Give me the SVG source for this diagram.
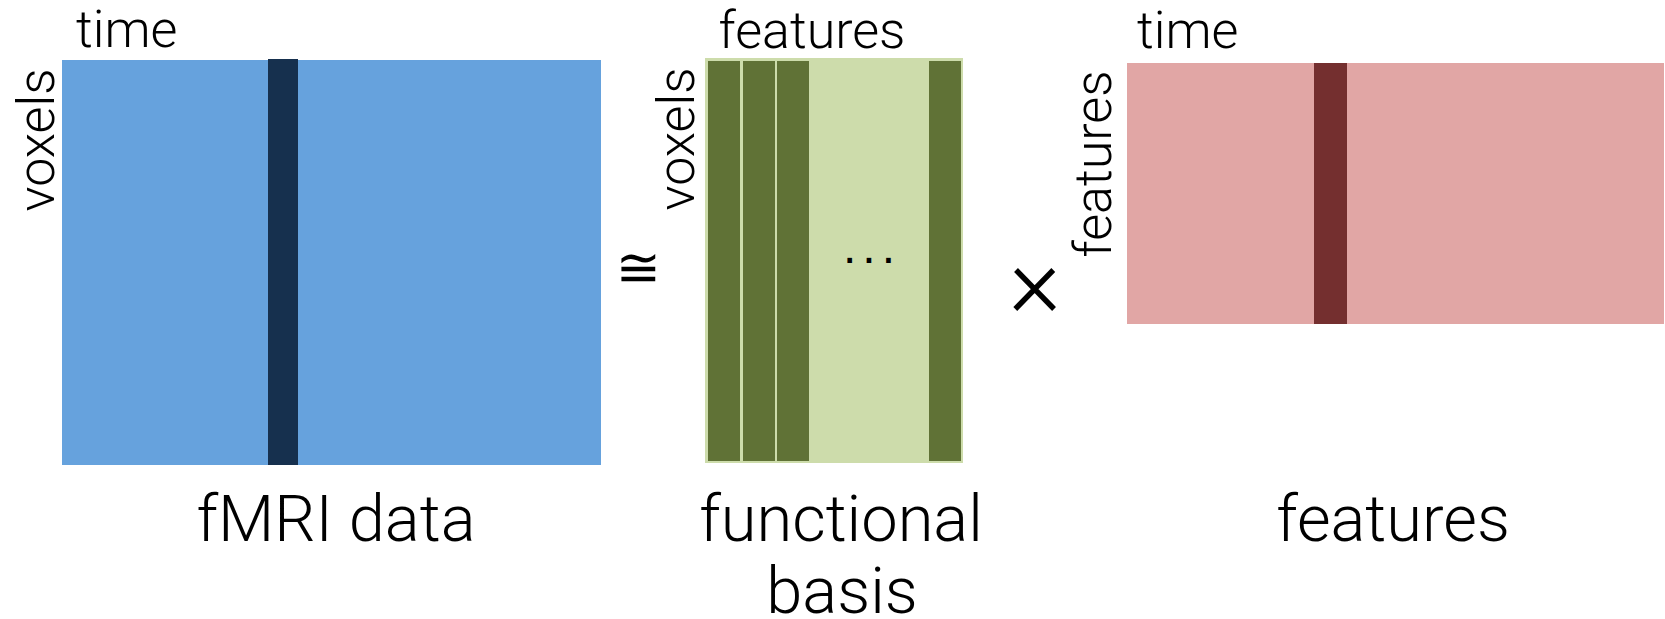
<svg xmlns="http://www.w3.org/2000/svg" width="1665" height="619" viewBox="0 0 1665 619">
  <style>
    text { font-family: Roboto, "Liberation Sans", sans-serif; font-weight: 300; fill: #000; }
    .axis { font-size: 52px; }
    .title { font-size: 65px; text-anchor: middle; }
    .mid { text-anchor: middle; }
    .op { font-family: "DejaVu Sans", sans-serif; font-weight: 400; text-anchor: middle; }
  </style>

  <!-- fMRI data matrix: voxels x time -->
  <g id="fmri">
    <rect x="62" y="60" width="539" height="405" fill="#66a2dd"/>
    <rect x="268" y="59" width="30" height="406" fill="#16304e"/>
    <text class="axis" x="76" y="47">time</text>
    <text class="axis mid" transform="translate(54,140) rotate(-90)">voxels</text>
    <text class="title" x="336" y="541">fMRI data</text>
  </g>

  <!-- approximately-equal operator -->
  <g id="approx">
    <text class="op" x="638" y="286" font-size="54">≅</text>
  </g>

  <!-- functional basis matrix: voxels x features -->
  <g id="basis">
    <rect x="705" y="58" width="258" height="405" fill="#cddcab"/>
    <rect x="708" y="61" width="32" height="400" fill="#607236"/>
    <rect x="743" y="61" width="32" height="400" fill="#607236"/>
    <rect x="777" y="61" width="32" height="400" fill="#607236"/>
    <rect x="929" y="61" width="32" height="400" fill="#607236"/>
    <text x="872" y="263" font-size="48" class="mid" style="font-family:'Liberation Sans',sans-serif;font-weight:400;letter-spacing:6px">...</text>
    <text class="axis mid" x="812" y="48">features</text>
    <text class="axis mid" transform="translate(694,139) rotate(-90)">voxels</text>
    <text class="title" y="541"><tspan x="841">functional</tspan><tspan x="842" dy="72">basis</tspan></text>
  </g>

  <!-- multiplication operator -->
  <g id="times">
    <text x="1035" y="316" font-size="100" class="mid">×</text>
  </g>

  <!-- feature matrix: features x time -->
  <g id="features">
    <rect x="1127" y="63" width="537" height="261" fill="#e1a6a5"/>
    <rect x="1314" y="63" width="33" height="261" fill="#742f2f"/>
    <text class="axis" x="1137" y="48">time</text>
    <text class="axis mid" transform="translate(1111,164) rotate(-90)">features</text>
    <text class="title" x="1393" y="541">features</text>
  </g>

  <g id="connectors"/>
</svg>
